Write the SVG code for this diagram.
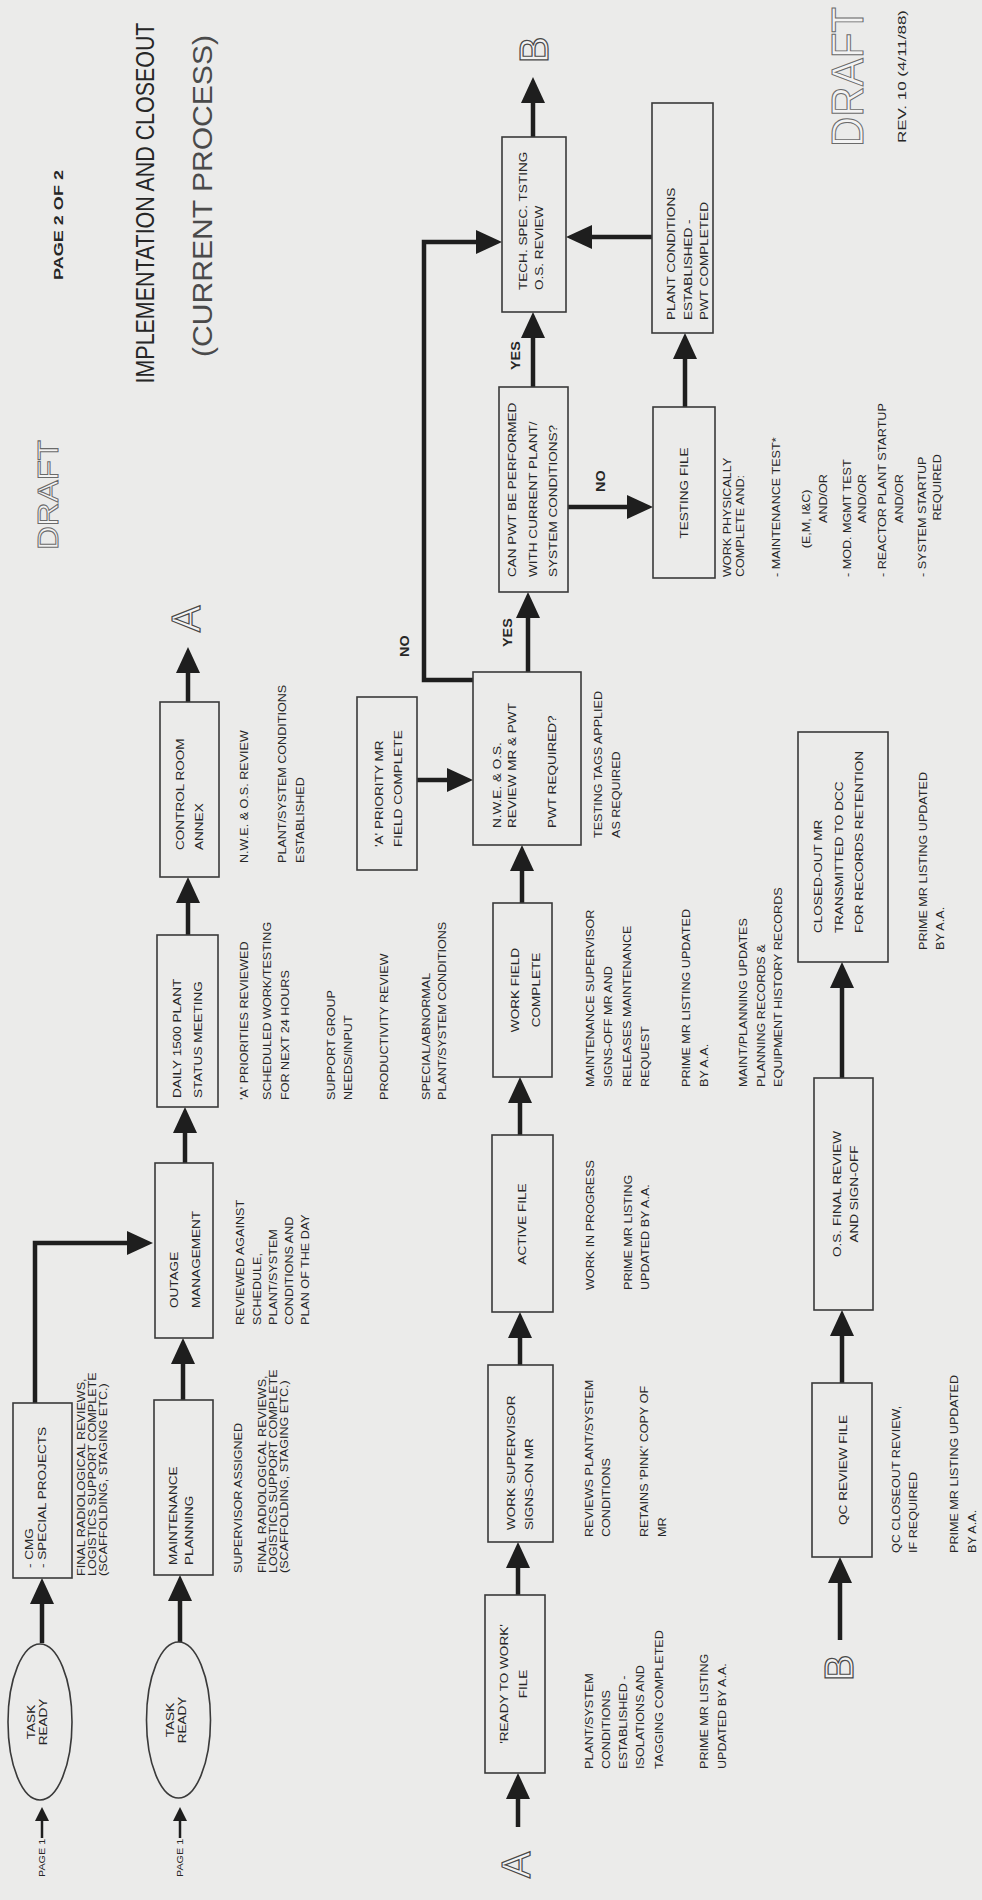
<svg xmlns="http://www.w3.org/2000/svg" width="982" height="1900" viewBox="0 0 982 1900">
<style>
text{font-family:"Liberation Sans",Arial,sans-serif;fill:#262626}
.bx{font-size:11.3px}
.an{font-size:10.5px}
.sm{font-size:9px}
.lb{font-size:12px;font-weight:bold}
.box{fill:none;stroke:#3a3a3a;stroke-width:1.6}
.ln{fill:none;stroke:#1e1e1e;stroke-width:4.5;marker-end:url(#ah)}
.lns{fill:none;stroke:#1e1e1e;stroke-width:2.5;marker-end:url(#ahs)}
.big{font-size:40px;fill:#f3f3f3;stroke:#4a4a4a;stroke-width:1.2}
.dr{fill:#f3f3f3;stroke:#6a6a6a;stroke-width:1}
</style>
<defs>
<marker id="ah" markerUnits="userSpaceOnUse" markerWidth="26" markerHeight="24" refX="2" refY="12" orient="auto" viewBox="0 0 26 24"><path d="M0,0 L26,12 L0,24 z" fill="#1e1e1e"/></marker>
<marker id="ahs" markerUnits="userSpaceOnUse" markerWidth="14" markerHeight="14" refX="1" refY="7" orient="auto" viewBox="0 0 14 14"><path d="M0,0 L14,7 L0,14 z" fill="#1e1e1e"/></marker>
</defs>
<rect width="982" height="1900" fill="#ebebea"/>
<g transform="translate(0,1900) rotate(-90)">

<g id="connectors">
<path class="lns" d="M62,42 L80,42"/>
<path class="lns" d="M62,180 L80,180"/>
<path class="ln" d="M257,42 L298,42"/>
<path class="ln" d="M497,35 L657,35 L657,129"/>
<path class="ln" d="M258,180 L301,180"/>
<path class="ln" d="M500,183 L538,183"/>
<path class="ln" d="M737,185 L769,185"/>
<path class="ln" d="M965,188 L999,188"/>
<path class="ln" d="M1198,188 L1229,188"/>
<path class="ln" d="M73,518 L103,518"/>
<path class="ln" d="M305,518 L334,518"/>
<path class="ln" d="M535,520 L564,520"/>
<path class="ln" d="M765,520 L799,520"/>
<path class="ln" d="M997,522 L1031,522"/>
<path class="ln" d="M1120,417 L1120,449"/>
<path class="ln" d="M1220,473 L1220,424 L1658,424 L1658,478"/>
<path class="ln" d="M1228,528 L1284,528"/>
<path class="ln" d="M1513,533 L1564,533"/>
<path class="ln" d="M1763,533 L1799,533"/>
<path class="ln" d="M1393,568 L1393,629"/>
<path class="ln" d="M1493,685 L1543,685"/>
<path class="ln" d="M1663,652 L1663,590"/>
<path class="ln" d="M260,840 L319,840"/>
<path class="ln" d="M517,842 L566,842"/>
<path class="ln" d="M822,842 L914,842"/>
<text class="lb" transform="translate(1243,0) scale(1.2,1)" y="409">NO</text>
<text class="lb" transform="translate(1253,0) scale(1.2,1)" y="512">YES</text>
<text class="lb" transform="translate(1530,0) scale(1.2,1)" y="520">YES</text>
<text class="lb" transform="translate(1408,0) scale(1.2,1)" y="605">NO</text>
</g>

<g id="title">
<text class="dr" x="1350" y="58" font-size="30" textLength="110" lengthAdjust="spacingAndGlyphs">DRAFT</text>
<text x="1675" y="63" font-size="12" font-weight="bold" text-anchor="middle" textLength="110" lengthAdjust="spacingAndGlyphs">PAGE 2 OF 2</text>
<text font-size="25" text-anchor="middle" transform="translate(1697,154) scale(0.857,1)">IMPLEMENTATION AND CLOSEOUT</text>
<text x="1704" y="212" font-size="27" text-anchor="middle" textLength="322" lengthAdjust="spacingAndGlyphs" style="fill:#4a4a4a">(CURRENT PROCESS)</text>
<text class="dr" x="1753" y="863" font-size="44" textLength="140" lengthAdjust="spacingAndGlyphs">DRAFT</text>
<text x="1757" y="906" font-size="10" textLength="133" lengthAdjust="spacingAndGlyphs">REV. 10 (4/11/88)</text>
</g>

<g id="page1-a"><text class="sm" transform="translate(23,0) scale(1.2,1)" y="45">PAGE 1</text></g>
<g id="page1-b"><text class="sm" transform="translate(23,0) scale(1.2,1)" y="183">PAGE 1</text></g>

<g id="task-ready-1">
<ellipse cx="178" cy="40" rx="78" ry="32" class="box"/>
<text class="bx" text-anchor="middle" transform="translate(178,0) scale(1.2,1)"><tspan x="0" y="35">TASK</tspan><tspan x="0" y="47">READY</tspan></text>
</g>
<g id="task-ready-2">
<ellipse cx="180" cy="178.5" rx="78" ry="32" class="box"/>
<text class="bx" text-anchor="middle" transform="translate(180,0) scale(1.2,1)"><tspan x="0" y="174">TASK</tspan><tspan x="0" y="186">READY</tspan></text>
</g>

<g id="cmg">
<rect x="322" y="13" width="175" height="59" class="box"/>
<text class="bx" transform="translate(332,0) scale(1.2,1)"><tspan x="0" y="33">- CMG</tspan><tspan x="0" y="46">- SPECIAL PROJECTS</tspan></text>
<text class="an" transform="translate(324,0) scale(1.2,1)"><tspan x="0" y="85">FINAL RADIOLOGICAL REVIEWS,</tspan><tspan x="0" y="96">LOGISTICS SUPPORT COMPLETE</tspan><tspan x="0" y="107">(SCAFFOLDING, STAGING ETC.)</tspan></text>
</g>

<g id="maint-planning">
<rect x="325" y="154" width="175" height="59" class="box"/>
<text class="bx" transform="translate(335,0) scale(1.2,1)"><tspan x="0" y="177">MAINTENANCE</tspan><tspan x="0" y="193">PLANNING</tspan></text>
<text class="an" transform="translate(327,0) scale(1.2,1)"><tspan x="0" y="242">SUPERVISOR ASSIGNED</tspan><tspan x="0" y="266">FINAL RADIOLOGICAL REVIEWS,</tspan><tspan x="0" y="277">LOGISTICS SUPPORT COMPLETE</tspan><tspan x="0" y="288">(SCAFFOLDING, STAGING ETC.)</tspan></text>
</g>

<g id="outage">
<rect x="562" y="155" width="175" height="58" class="box"/>
<text class="bx" transform="translate(592,0) scale(1.2,1)"><tspan x="0" y="178">OUTAGE</tspan><tspan x="0" y="200">MANAGEMENT</tspan></text>
<text class="an" transform="translate(575,0) scale(1.2,1)"><tspan x="0" y="244">REVIEWED AGAINST</tspan><tspan x="0" y="261">SCHEDULE,</tspan><tspan x="0" y="277">PLANT/SYSTEM</tspan><tspan x="0" y="293">CONDITIONS AND</tspan><tspan x="0" y="309">PLAN OF THE DAY</tspan></text>
</g>

<g id="daily-meeting">
<rect x="793" y="157" width="172" height="61" class="box"/>
<text class="bx" transform="translate(802,0) scale(1.2,1)"><tspan x="0" y="181">DAILY 1500 PLANT</tspan><tspan x="0" y="202">STATUS MEETING</tspan></text>
<text class="an" transform="translate(800,0) scale(1.2,1)"><tspan x="0" y="248">'A' PRIORITIES REVIEWED</tspan><tspan x="0" y="271">SCHEDULED WORK/TESTING</tspan><tspan x="0" y="289">FOR NEXT 24 HOURS</tspan><tspan x="0" y="335">SUPPORT GROUP</tspan><tspan x="0" y="352">NEEDS/INPUT</tspan><tspan x="0" y="388">PRODUCTIVITY REVIEW</tspan><tspan x="0" y="430">SPECIAL/ABNORMAL</tspan><tspan x="0" y="446">PLANT/SYSTEM CONDITIONS</tspan></text>
</g>

<g id="control-room">
<rect x="1023" y="160" width="175" height="59" class="box"/>
<text class="bx" transform="translate(1050,0) scale(1.2,1)"><tspan x="0" y="184">CONTROL ROOM</tspan><tspan x="0" y="203">ANNEX</tspan></text>
<text class="an" transform="translate(1037,0) scale(1.2,1)"><tspan x="0" y="248">N.W.E. &amp; O.S. REVIEW</tspan><tspan x="0" y="286">PLANT/SYSTEM CONDITIONS</tspan><tspan x="0" y="304">ESTABLISHED</tspan></text>
</g>

<g id="conn-a-out"><text class="big" x="1281" y="200" text-anchor="middle">A</text></g>
<g id="conn-a-in"><text class="big" x="35" y="530" text-anchor="middle">A</text></g>

<g id="ready-to-work">
<rect x="127" y="485" width="178" height="60" class="box"/>
<text class="bx" text-anchor="middle" transform="translate(216,0) scale(1.2,1)"><tspan x="0" y="508">'READY TO WORK'</tspan><tspan x="0" y="527">FILE</tspan></text>
<text class="an" transform="translate(131,0) scale(1.2,1)"><tspan x="0" y="593">PLANT/SYSTEM</tspan><tspan x="0" y="610">CONDITIONS</tspan><tspan x="0" y="627">ESTABLISHED -</tspan><tspan x="0" y="644">ISOLATIONS AND</tspan><tspan x="0" y="663">TAGGING COMPLETED</tspan><tspan x="0" y="708">PRIME MR LISTING</tspan><tspan x="0" y="726">UPDATED BY A.A.</tspan></text>
</g>

<g id="work-supervisor">
<rect x="358" y="488" width="177" height="65" class="box"/>
<text class="bx" transform="translate(370,0) scale(1.2,1)"><tspan x="0" y="515">WORK SUPERVISOR</tspan><tspan x="0" y="533">SIGNS-ON MR</tspan></text>
<text class="an" transform="translate(363,0) scale(1.2,1)"><tspan x="0" y="593">REVIEWS PLANT/SYSTEM</tspan><tspan x="0" y="610">CONDITIONS</tspan><tspan x="0" y="648">RETAINS 'PINK' COPY OF</tspan><tspan x="0" y="666">MR</tspan></text>
</g>

<g id="active-file">
<rect x="588" y="492" width="177" height="61" class="box"/>
<text class="bx" text-anchor="middle" transform="translate(676,0) scale(1.2,1)"><tspan x="0" y="526">ACTIVE FILE</tspan></text>
<text class="an" transform="translate(610,0) scale(1.2,1)"><tspan x="0" y="594">WORK IN PROGRESS</tspan><tspan x="0" y="632">PRIME MR LISTING</tspan><tspan x="0" y="649">UPDATED BY A.A.</tspan></text>
</g>

<g id="work-field-complete">
<rect x="823" y="493" width="174" height="59" class="box"/>
<text class="bx" text-anchor="middle" transform="translate(910,0) scale(1.2,1)"><tspan x="0" y="519">WORK FIELD</tspan><tspan x="0" y="540">COMPLETE</tspan></text>
<text class="an" transform="translate(813,0) scale(1.2,1)"><tspan x="0" y="594">MAINTENANCE SUPERVISOR</tspan><tspan x="0" y="612">SIGNS-OFF MR AND</tspan><tspan x="0" y="631">RELEASES MAINTENANCE</tspan><tspan x="0" y="649">REQUEST</tspan><tspan x="0" y="690">PRIME MR LISTING UPDATED</tspan><tspan x="0" y="708">BY A.A.</tspan><tspan x="0" y="747">MAINT/PLANNING UPDATES</tspan><tspan x="0" y="765">PLANNING RECORDS &amp;</tspan><tspan x="0" y="782">EQUIPMENT HISTORY RECORDS</tspan></text>
</g>

<g id="a-priority">
<rect x="1030" y="357" width="173" height="60" class="box"/>
<text class="bx" transform="translate(1053,0) scale(1.2,1)"><tspan x="0" y="383">'A' PRIORITY MR</tspan><tspan x="0" y="402">FIELD COMPLETE</tspan></text>
</g>

<g id="nwe-review">
<rect x="1055" y="473" width="173" height="108" class="box"/>
<text class="bx" transform="translate(1072,0) scale(1.2,1)"><tspan x="0" y="501">N.W.E. &amp; O.S.</tspan><tspan x="0" y="516">REVIEW MR &amp; PWT</tspan><tspan x="0" y="556">PWT REQUIRED?</tspan></text>
<text class="an" transform="translate(1062,0) scale(1.2,1)"><tspan x="0" y="602">TESTING TAGS APPLIED</tspan><tspan x="0" y="620">AS REQUIRED</tspan></text>
</g>

<g id="can-pwt">
<rect x="1308" y="499" width="205" height="69" class="box"/>
<text class="bx" transform="translate(1323,0) scale(1.2,1)"><tspan x="0" y="516">CAN PWT BE PERFORMED</tspan><tspan x="0" y="537">WITH CURRENT PLANT/</tspan><tspan x="0" y="557">SYSTEM CONDITIONS?</tspan></text>
</g>

<g id="tech-spec">
<rect x="1588" y="502" width="175" height="64" class="box"/>
<text class="bx" transform="translate(1610,0) scale(1.2,1)"><tspan x="0" y="527">TECH. SPEC. TSTING</tspan><tspan x="0" y="543">O.S. REVIEW</tspan></text>
</g>

<g id="conn-b-out"><text class="big" x="1850" y="548" text-anchor="middle">B</text></g>

<g id="testing-file">
<rect x="1322" y="653" width="171" height="62" class="box"/>
<text class="bx" text-anchor="middle" transform="translate(1407,0) scale(1.2,1)"><tspan x="0" y="688">TESTING FILE</tspan></text>
<text class="an" transform="translate(1323,0) scale(1.2,1)"><tspan x="0" y="731">WORK PHYSICALLY</tspan><tspan x="0" y="744">COMPLETE AND:</tspan><tspan x="0" y="780">- MAINTENANCE TEST*</tspan><tspan x="24" y="810">(E,M, I&amp;C)</tspan><tspan x="45" y="827">AND/OR</tspan><tspan x="0" y="851">- MOD. MGMT TEST</tspan><tspan x="45" y="866">AND/OR</tspan><tspan x="0" y="886">- REACTOR PLANT STARTUP</tspan><tspan x="45" y="903">AND/OR</tspan><tspan x="0" y="926">- SYSTEM STARTUP</tspan><tspan x="47" y="941">REQUIRED</tspan></text>
</g>

<g id="plant-conditions">
<rect x="1567" y="652" width="230" height="61" class="box"/>
<text class="bx" transform="translate(1580,0) scale(1.2,1)"><tspan x="0" y="675">PLANT CONDITIONS</tspan><tspan x="0" y="692">ESTABLISHED -</tspan><tspan x="0" y="708">PWT COMPLETED</tspan></text>
</g>

<g id="conn-b-in"><text class="big" x="232" y="853" text-anchor="middle">B</text></g>

<g id="qc-review">
<rect x="343" y="812" width="174" height="60" class="box"/>
<text class="bx" text-anchor="middle" transform="translate(430,0) scale(1.2,1)"><tspan x="0" y="847">QC REVIEW FILE</tspan></text>
<text class="an" transform="translate(347,0) scale(1.2,1)"><tspan x="0" y="900">QC CLOSEOUT REVIEW,</tspan><tspan x="0" y="917">IF REQUIRED</tspan><tspan x="0" y="958">PRIME MR LISTING UPDATED</tspan><tspan x="0" y="976">BY A.A.</tspan></text>
</g>

<g id="os-final">
<rect x="590" y="814" width="232" height="59" class="box"/>
<text class="bx" text-anchor="middle" transform="translate(706,0) scale(1.2,1)"><tspan x="0" y="841">O.S. FINAL REVIEW</tspan><tspan x="0" y="858">AND SIGN-OFF</tspan></text>
</g>

<g id="closed-out">
<rect x="938" y="798" width="230" height="90" class="box"/>
<text class="bx" transform="translate(967,0) scale(1.2,1)"><tspan x="0" y="822">CLOSED-OUT MR</tspan><tspan x="0" y="843">TRANSMITTED TO DCC</tspan><tspan x="0" y="863">FOR RECORDS RETENTION</tspan></text>
<text class="an" transform="translate(950,0) scale(1.2,1)"><tspan x="0" y="927">PRIME MR LISTING UPDATED</tspan><tspan x="0" y="944">BY A.A.</tspan></text>
</g>

</g>
</svg>
